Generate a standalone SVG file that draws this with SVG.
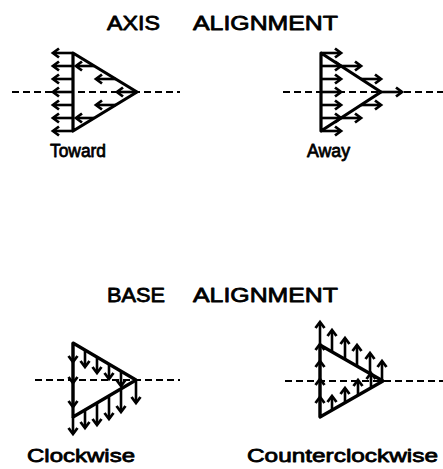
<svg xmlns="http://www.w3.org/2000/svg" width="443" height="469" viewBox="0 0 443 469">
<style>
.tri{fill:none;stroke:#000;stroke-width:3.2;stroke-linejoin:round}
.ar{fill:none;stroke:#000;stroke-width:2.6;marker-end:url(#ah)}
.ax{fill:none;stroke:#000;stroke-width:2.2;stroke-dasharray:7 4}
.t{font-family:"Liberation Sans",Arial,sans-serif;font-weight:normal;fill:#000;stroke:#000;stroke-width:0.8;stroke-linejoin:round}
.h{font-size:21px}
.l{font-size:19px}
</style>
<defs>
<marker id="ah" viewBox="-8 -6 10 12" refX="0" refY="0" markerWidth="10" markerHeight="12" markerUnits="userSpaceOnUse" orient="auto" overflow="visible">
<path d="M-6,-4.5 L0,0 L-6,4.5" fill="none" stroke="#000" stroke-width="2.8" stroke-linejoin="miter" stroke-miterlimit="6"/>
</marker>
</defs>
<rect width="443" height="469" fill="#fff"/>
<g id="titles">
<text class="t h" x="107" y="30" textLength="53" lengthAdjust="spacingAndGlyphs">AXIS</text>
<text class="t h" x="193" y="30" textLength="145" lengthAdjust="spacingAndGlyphs">ALIGNMENT</text>
<text class="t h" x="107" y="302" textLength="58" lengthAdjust="spacingAndGlyphs">BASE</text>
<text class="t h" x="193" y="302" textLength="145" lengthAdjust="spacingAndGlyphs">ALIGNMENT</text>
</g>
<g id="axes">
<line class="ax" x1="12" y1="92" x2="180" y2="92"/>
<line class="ax" x1="283" y1="92" x2="443" y2="92"/>
<line class="ax" x1="35" y1="380" x2="180" y2="380"/>
<line class="ax" x1="285" y1="381" x2="443" y2="381"/>
</g>
<g id="toward">
<polygon class="tri" points="73,53 137,92 73,131"/>
<path class="ar" d="M73,53H53"/><path class="ar" d="M73,66H53"/><path class="ar" d="M73,79H53"/><path class="ar" d="M73,92H53"/><path class="ar" d="M73,105H53"/><path class="ar" d="M73,118H53"/><path class="ar" d="M73,131H53"/>
<path class="ar" d="M94,66H76"/><path class="ar" d="M116,79H96"/><path class="ar" d="M137,92H117"/><path class="ar" d="M116,105H96"/><path class="ar" d="M94,118H76"/>
<text class="t l" x="50" y="157" textLength="56" lengthAdjust="spacingAndGlyphs">Toward</text>
</g>
<g id="away">
<polygon class="tri" points="321,53 381,92 321,131"/>
<path class="ar" d="M321,53H341"/><path class="ar" d="M321,66H341"/><path class="ar" d="M321,79H341"/><path class="ar" d="M321,92H341"/><path class="ar" d="M321,105H341"/><path class="ar" d="M321,118H341"/><path class="ar" d="M321,131H341"/>
<path class="ar" d="M341,66H361"/><path class="ar" d="M361,79H381"/><path class="ar" d="M381,92H402"/><path class="ar" d="M361,105H381"/><path class="ar" d="M341,118H361"/>
<text class="t l" x="307" y="157" textLength="43" lengthAdjust="spacingAndGlyphs">Away</text>
</g>
<g id="clockwise">
<polygon class="tri" points="73,343 136,380 73,417"/>
<path class="ar" d="M73,343V362"/><path class="ar" d="M73,362V383"/><path class="ar" d="M73,383V407"/><path class="ar" d="M73,417V434"/>
<path class="ar" d="M85,350V367"/><path class="ar" d="M97,357V373"/><path class="ar" d="M109,364V379"/><path class="ar" d="M121,371V386"/>
<path class="ar" d="M136,380V403"/>
<path class="ar" d="M85,410V428"/><path class="ar" d="M97,403V425"/><path class="ar" d="M109,396V419"/><path class="ar" d="M121,389V412"/>
<text class="t l" x="27" y="462" textLength="108" lengthAdjust="spacingAndGlyphs">Clockwise</text>
</g>
<g id="counterclockwise">
<polygon class="tri" points="320,345 383,381 320,417"/>
<path class="ar" d="M320,417V397"/><path class="ar" d="M320,397V379"/><path class="ar" d="M320,379V361"/><path class="ar" d="M320,361V344"/><path class="ar" d="M320,345V322"/>
<path class="ar" d="M332,352V330"/><path class="ar" d="M345,359V338"/><path class="ar" d="M357,366V345"/><path class="ar" d="M370,374V353"/><path class="ar" d="M382,380V361"/>
<path class="ar" d="M332,410V396"/><path class="ar" d="M345,403V388"/><path class="ar" d="M358,395V380"/><path class="ar" d="M371,388V373"/>
<text class="t l" x="247" y="462" textLength="191" lengthAdjust="spacingAndGlyphs">Counterclockwise</text>
</g>
</svg>
